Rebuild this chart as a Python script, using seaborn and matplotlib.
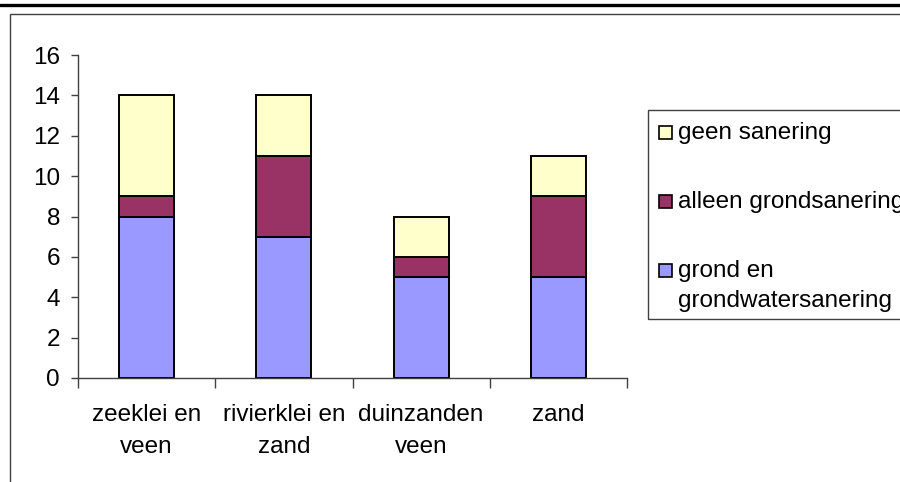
import matplotlib
matplotlib.use("Agg")
import matplotlib.pyplot as plt
import seaborn as sns
from matplotlib.patches import Rectangle
from matplotlib.lines import Line2D

# soil types and counts per remediation type
categories = ["zeeklei en\nveen", "rivierklei en\nzand", "duinzanden\nveen", "zand"]
grond_en_grondwater = [8, 7, 5, 5]
alleen_grond = [1, 4, 1, 4]
geen_sanering = [5, 3, 2, 2]

series_labels = ["geen sanering", "alleen grondsanering", "grond en\ngrondwatersanering"]
series_colors = ["#FFFFCC", "#993366", "#9999FF"]

FS = 17.5
W, H = 900, 482

sns.set_style("white")
plt.rcParams["font.family"] = ["Liberation Sans", "DejaVu Sans"]
plt.rcParams["text.color"] = "black"
plt.rcParams["xtick.labelcolor"] = "black"
plt.rcParams["ytick.labelcolor"] = "black"

fig = plt.figure(figsize=(9, 4.82), dpi=100)
ax = fig.add_axes([78 / W, 1 - 378 / H, (627 - 78) / W, (378 - 55) / H])

bottom2 = [a + b for a, b in zip(grond_en_grondwater, alleen_grond)]
kw = dict(width=0.4, edgecolor="black", linewidth=1.4, saturation=1, ax=ax)
sns.barplot(x=categories, y=grond_en_grondwater, color=series_colors[2], **kw)
sns.barplot(x=categories, y=alleen_grond, bottom=grond_en_grondwater, color=series_colors[1], **kw)
sns.barplot(x=categories, y=geen_sanering, bottom=bottom2, color=series_colors[0], **kw)

ax.set_ylim(0, 16)
ax.set_xlim(-0.5, 3.5)
ax.set_yticks(range(0, 17, 2))
ax.set_xticks([-0.5, 0.5, 1.5, 2.5, 3.5], minor=True)
ax.tick_params(axis="x", which="major", length=0, pad=19, labelsize=FS, labelcolor="black")
ax.tick_params(axis="x", which="minor", length=7, width=1, color="#404040", direction="out", bottom=True)
ax.tick_params(axis="y", length=5, width=1, color="#404040", direction="out", left=True, pad=8,
               labelsize=FS, labelcolor="black")
for lbl in ax.get_xticklabels():
    lbl.set_linespacing(1.55)
ax.set_xlabel("")
ax.set_ylabel("")
for side in ["top", "right"]:
    ax.spines[side].set_visible(False)
for side in ["left", "bottom"]:
    ax.spines[side].set_color("#404040")
    ax.spines[side].set_linewidth(1)

# legend, drawn by hand to get the Excel look (marker next to first line)
fig.patches.append(Rectangle((648 / W, 1 - 319 / H), 0.5, (319 - 110) / H, transform=fig.transFigure,
                             fill=False, edgecolor="#404040", linewidth=1))
entry_y = [132, 201, 270]
for y, label, col in zip(entry_y, series_labels, series_colors):
    fig.patches.append(Rectangle((659 / W, 1 - (y + 6.5) / H), 13 / W, 13 / H, transform=fig.transFigure,
                                 facecolor=col, edgecolor="black", linewidth=1.2))
    for i, line in enumerate(label.split("\n")):
        fig.text(678 / W, 1 - (y + 1 + 30 * i) / H, line, fontsize=FS, va="center", ha="left", color="black")

# chart-area frame and top rule
fig.patches.append(Rectangle((10 / W, -0.1), 1.2, 1 - 14 / H + 0.1, transform=fig.transFigure,
                             fill=False, edgecolor="#404040", linewidth=1))
fig.lines.append(Line2D([0, 1], [1 - 5.3 / H] * 2, transform=fig.transFigure, color="black", linewidth=2.4))

fig.savefig("out.png", dpi=100)
